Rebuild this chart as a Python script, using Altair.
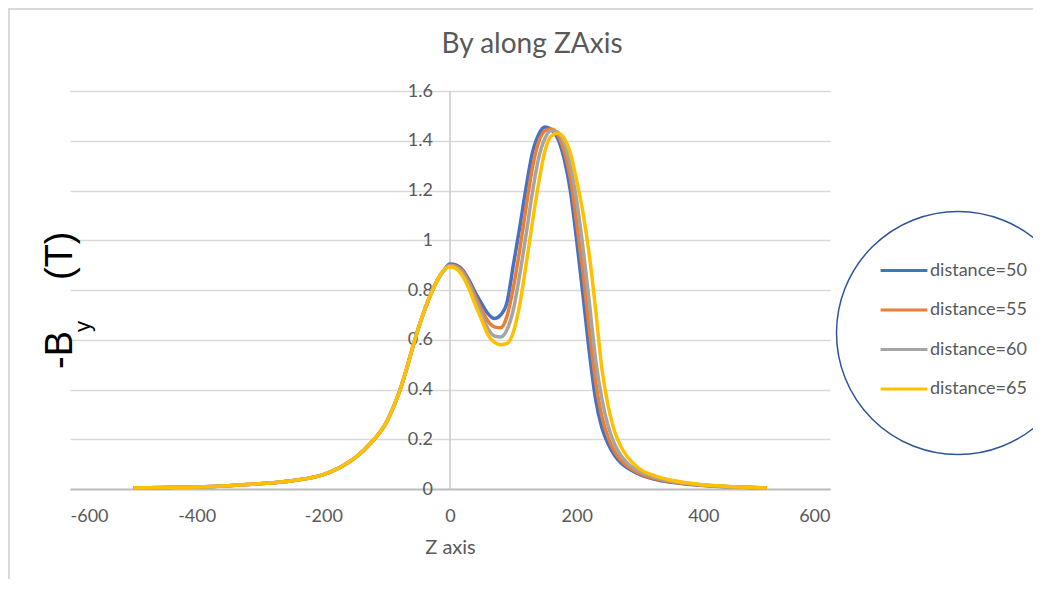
import altair as alt
import pandas as pd

# ---- data ----
z = [-500, -450, -400, -350, -300, -250, -200, -175, -150, -125, -100, -90, -80, -70, -60, -50, -40, -30, -20, -10,
     0, 10, 20, 30, 40, 50, 60, 70, 80, 90, 100, 110, 120, 130, 140, 150, 160, 170, 180, 190, 200, 210, 220, 230, 240,
     250, 260, 270, 280, 300, 325, 350, 400, 450, 500]

left_common = [0.004, 0.006, 0.008, 0.013, 0.021, 0.033, 0.058, 0.085, 0.125, 0.185, 0.27, 0.325, 0.39, 0.47,
               0.56, 0.645, 0.72, 0.785, 0.84, 0.878]

by_50 = [0.905, 0.90, 0.88, 0.84, 0.79, 0.745, 0.705, 0.685, 0.70, 0.75, 0.90, 1.05, 1.21, 1.35, 1.425, 1.455,
         1.445, 1.41, 1.33, 1.20, 1.00, 0.78, 0.55, 0.36, 0.245, 0.18, 0.135, 0.105, 0.085, 0.058, 0.038, 0.027,
         0.014, 0.008, 0.004]
by_55 = [0.90, 0.895, 0.875, 0.83, 0.775, 0.72, 0.675, 0.652, 0.648, 0.695, 0.81, 0.96, 1.13, 1.29, 1.395, 1.44,
         1.447, 1.425, 1.36, 1.25, 1.07, 0.87, 0.64, 0.43, 0.29, 0.205, 0.15, 0.115, 0.092, 0.062, 0.041, 0.029,
         0.015, 0.008, 0.004]
by_60 = [0.897, 0.89, 0.865, 0.82, 0.76, 0.70, 0.645, 0.615, 0.611, 0.64, 0.72, 0.86, 1.02, 1.19, 1.33, 1.41,
         1.44, 1.435, 1.39, 1.30, 1.16, 0.97, 0.75, 0.52, 0.36, 0.25, 0.18, 0.135, 0.105, 0.07, 0.046, 0.032,
         0.016, 0.009, 0.004]
by_65 = [0.893, 0.885, 0.855, 0.805, 0.74, 0.68, 0.62, 0.59, 0.58, 0.585, 0.63, 0.74, 0.90, 1.07, 1.23, 1.36,
         1.42, 1.43, 1.41, 1.35, 1.24, 1.11, 0.94, 0.72, 0.48, 0.33, 0.23, 0.17, 0.13, 0.08, 0.052, 0.035,
         0.017, 0.009, 0.004]

series_names = ["distance=50", "distance=55", "distance=60", "distance=65"]
series_colors = ["#4472C4", "#ED7D31", "#A5A5A5", "#FFC000"]
x_ticks = [-600, -400, -200, 0, 200, 400, 600]
y_ticks = [0, 0.2, 0.4, 0.6, 0.8, 1, 1.2, 1.4, 1.6]

rows = []
for name, right in zip(series_names, [by_50, by_55, by_60, by_65]):
    vals = left_common + right
    for zz, v in zip(z, vals):
        rows.append({"series": name, "z": zz, "value": v})
df = pd.DataFrame(rows)

GRAY = "#595959"
FONT = "Lato"

lines = alt.Chart(df).mark_line(strokeWidth=3.5, interpolate="monotone").encode(
    x=alt.X("z:Q", scale=alt.Scale(domain=[-600, 600], nice=False),
            axis=alt.Axis(values=x_ticks, labelExpr="'' + datum.value", ticks=False, grid=False,
                          domainColor="#bfbfbf", domainWidth=2, labelPadding=27, labelBaseline="middle",
                          labelFontSize=18, labelColor=GRAY, labelFont=FONT,
                          title="Z axis", titleFontSize=20, titleColor=GRAY, titleFont=FONT,
                          titleFontWeight="normal", titlePadding=12)),
    y=alt.Y("value:Q", scale=alt.Scale(domain=[0, 1.6], nice=False),
            axis=alt.Axis(values=y_ticks, format="~g", offset=-379.5, labelPadding=17, ticks=False,
                          domain=True, domainColor="#c8c8c8", domainWidth=1.5,
                          grid=True, gridColor="#d9d9d9", gridWidth=1.3,
                          labelFontSize=18, labelColor=GRAY, labelFont=FONT, title=None)),
    color=alt.Color("series:N", scale=alt.Scale(domain=series_names, range=series_colors),
                    legend=alt.Legend(title=None, orient="none", legendX=814.5, legendY=160,
                                      symbolType="M-1.3,0H1.3", symbolSize=1296, symbolStrokeWidth=3,
                                      labelFontSize=18, labelColor=GRAY, labelFont=FONT,
                                      labelOffset=6.5, rowPadding=10.5, padding=0)),
)

one = pd.DataFrame({"k": [0]})

border = alt.Chart(one).mark_rect(fillOpacity=0, stroke="#d9d9d9", strokeWidth=2).encode(
    x=alt.value(-61), y=alt.value(-82), x2=alt.value(2000), y2=alt.value(2000))

title = alt.Chart(pd.DataFrame({"t": ["By along ZAxis"]})).mark_text(
    fontSize=28, font=FONT, color=GRAY, align="center", baseline="alphabetic").encode(
    text="t:N", x=alt.value(462), y=alt.value(-38))

yt1 = alt.Chart(pd.DataFrame({"t": ["-B"]})).mark_text(
    fontSize=38, font="Liberation Sans", color="#000000", angle=270, align="left", baseline="alphabetic").encode(
    text="t:N", x=alt.value(2), y=alt.value(278))
yt2 = alt.Chart(pd.DataFrame({"t": ["y"]})).mark_text(
    fontSize=22, font="Liberation Sans", color="#000000", angle=270, align="left", baseline="alphabetic").encode(
    text="t:N", x=alt.value(20), y=alt.value(241))
yt3 = alt.Chart(pd.DataFrame({"t": ["(T)"]})).mark_text(
    fontSize=38, font="Liberation Sans", color="#000000", angle=270, align="left", baseline="alphabetic").encode(
    text="t:N", x=alt.value(2), y=alt.value(189))

circle = alt.Chart(one).mark_point(shape="circle", filled=False, size=59049, strokeWidth=1.5,
                                   color="#2F5597", opacity=1).encode(
    x=alt.value(888), y=alt.value(242))

chart = alt.layer(border, lines, title, yt1, yt2, yt3, circle).properties(
    width=760, height=398,
    autosize=alt.AutoSizeParams(type="none"),
    padding={"left": 62, "top": 83, "right": 203, "bottom": 90},
    background="white",
).configure_view(stroke=None)

chart.save("out.html", embed_options={"renderer": "svg", "actions": False})
